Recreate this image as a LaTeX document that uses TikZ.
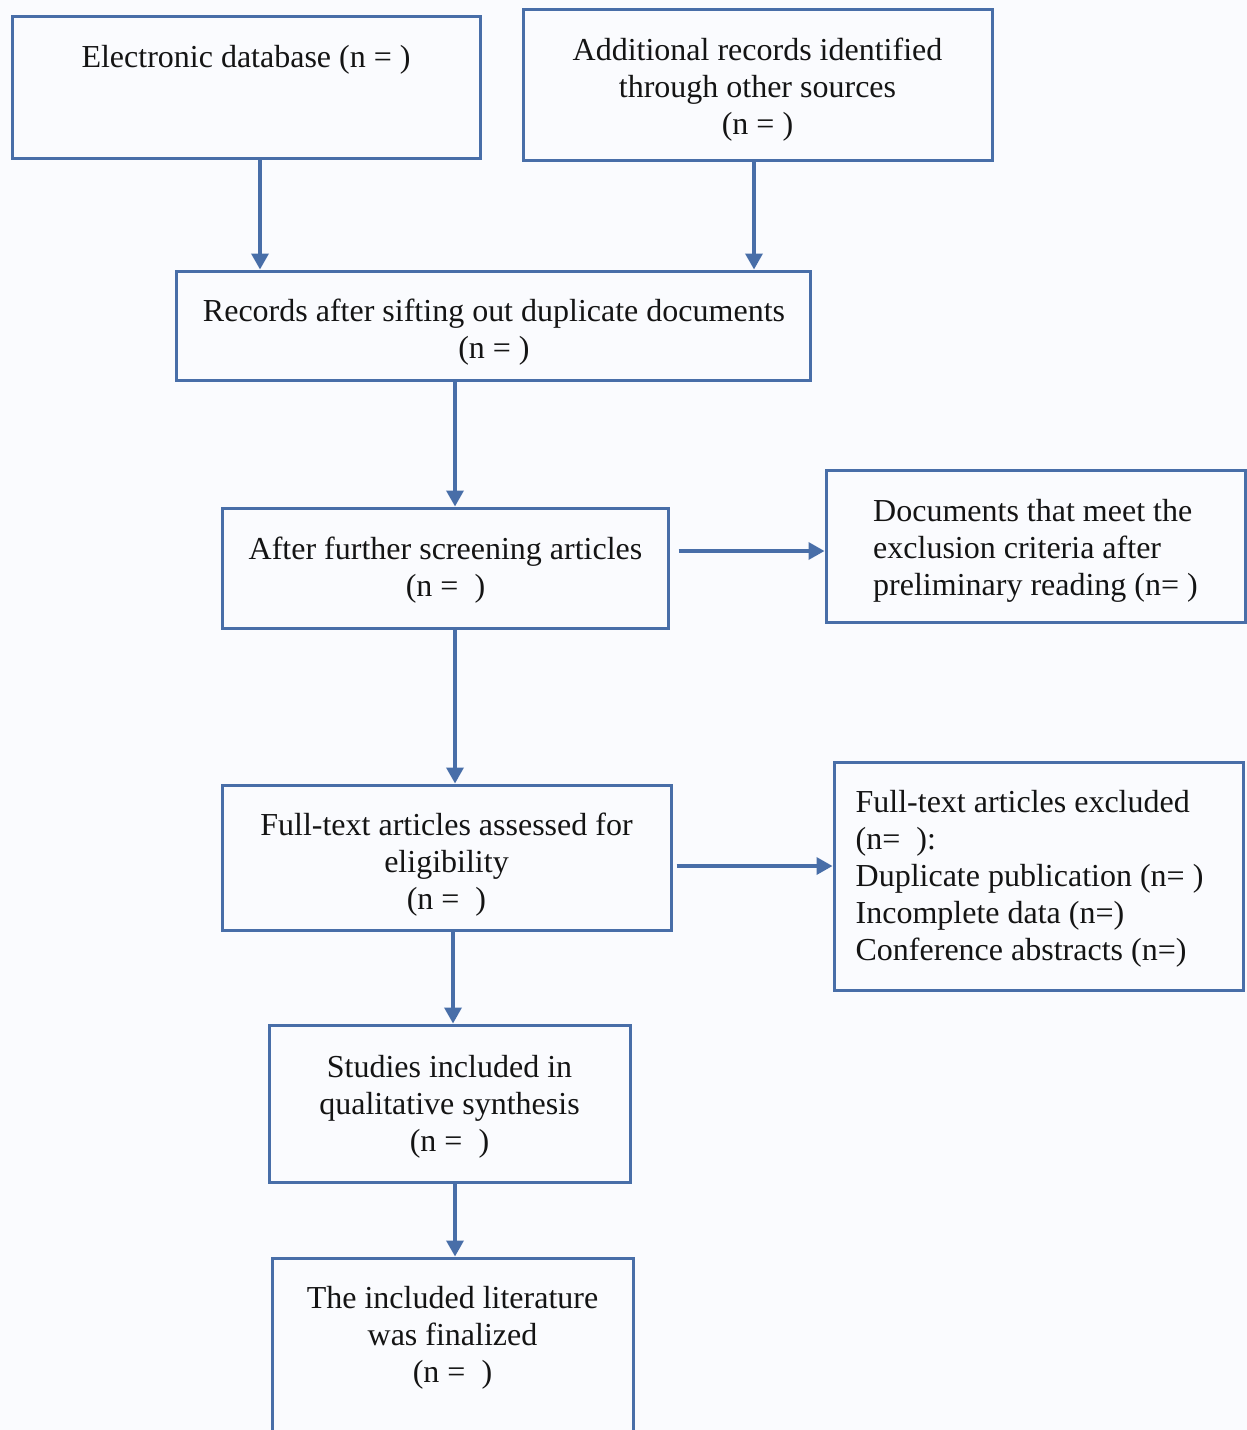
\documentclass[tikz,border=0pt]{standalone}
\usepackage{fontspec}
\setmainfont{Liberation Serif}
\usetikzlibrary{arrows.meta}
\definecolor{edge}{RGB}{72,110,168}
\definecolor{bg}{RGB}{250,251,254}
\begin{document}
\begin{tikzpicture}[x=1pt,y=-1pt,
  box/.style={draw=edge, line width=3pt, inner sep=0pt},
  txt/.style={inner sep=0pt, align=center, font=\fontsize{32}{37}\selectfont, text=black!92},
  ltxt/.style={txt, align=left},
  arr/.style={draw=edge, line width=3.5pt, -{Triangle[length=16pt,width=17pt]}}]
\fill[bg] (0,0) rectangle (1247,1430);
\useasboundingbox (0,0) rectangle (1247,1430);
% box 1
\node[box, minimum width=468, minimum height=142] (b1) at (246,87) {};
\node[txt] (t1) at (246,60) {Electronic database (n = )};
% box 2
\node[box, minimum width=469, minimum height=151] (b2) at (757.5,84.5) {};
\node[txt] (t2) at (757.5,89.5) {Additional records identified\\through other sources\\(n = )};
% box 3
\node[box, minimum width=634, minimum height=109] (b3) at (493,325.5) {};
\node[txt] (t3) at (494,332.5) {Records after sifting out duplicate documents\\(n = )};
% box 4
\node[box, minimum width=446, minimum height=120] (b4) at (445,568) {};
\node[txt] (t4) at (445.5,570) {After further screening articles\\(n = \ )};
% box 5
\node[box, minimum width=419, minimum height=152] (b5) at (1035.5,546) {};
\node[ltxt] (t5) at (1035.5,551) {Documents that meet the\\exclusion criteria after\\preliminary reading (n= )};
% box 6
\node[box, minimum width=449, minimum height=145] (b6) at (446.5,857.5) {};
\node[txt] (t6) at (446.5,864.5) {Full-text articles assessed for\\eligibility\\(n = \ )};
% box 7
\node[box, minimum width=409, minimum height=228] (b7) at (1038.5,876) {};
\node[ltxt] (t7) at (1029.5,879) {Full-text articles excluded\\(n= \ ):\\Duplicate publication (n= )\\Incomplete data (n=)\\Conference abstracts (n=)};
% box 8
\node[box, minimum width=361, minimum height=157] (b8) at (449.5,1103.5) {};
\node[txt] (t8) at (449.5,1106.5) {Studies included in\\qualitative synthesis\\(n = \ )};
% box 9 (cut off at the bottom)
\node[box, minimum width=361, minimum height=192] (b9) at (452.5,1354) {};
\node[txt] (t9) at (452.5,1337.5) {The included literature\\was finalized\\(n = \ )};
% arrows
\draw[arr] ([xshift=14pt]b1.south) -- ([xshift=14pt]b1.south |- b3.north);
\draw[arr] ([xshift=-3.5pt]b2.south) -- ([xshift=-3.5pt]b2.south |- b3.north);
\draw[arr] ([xshift=-38pt]b3.south) -- ([xshift=-38pt]b3.south |- b4.north);
\draw[arr] ([xshift=9pt,yshift=17pt]b4.east) -- ([yshift=17pt]b4.east -| b5.west);
\draw[arr] ([xshift=10pt]b4.south) -- ([xshift=10pt]b4.south |- b6.north);
\draw[arr] ([xshift=4pt,yshift=-8.5pt]b6.east) -- ([yshift=-8.5pt]b6.east -| b7.west);
\draw[arr] ([xshift=6.5pt]b6.south) -- ([xshift=6.5pt]b6.south |- b8.north);
\draw[arr] ([xshift=5.5pt]b8.south) -- ([xshift=5.5pt]b8.south |- b9.north);
\end{tikzpicture}
\end{document}
